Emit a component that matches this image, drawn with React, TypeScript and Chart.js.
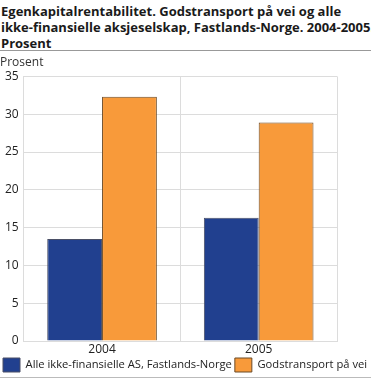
import React, { useEffect, useRef } from "react";
import { Chart, registerables } from "chart.js";

Chart.register(...registerables);

const titleLines = [
  "Egenkapitalrentabilitet. Godstransport på vei og alle",
  "ikke-finansielle aksjeselskap, Fastlands-Norge. 2004-2005.",
  "Prosent",
];
const categories = ["2004", "2005"];
const seriesNames = ["Alle ikke-finansielle AS, Fastlands-Norge", "Godstransport på vei"];
const allAS = [13.5, 16.3];
const godstransport = [32.3, 28.9];
const yAxisLabel = "Prosent";

const FONT = "'Open Sans', 'DejaVu Sans', sans-serif";

export default function App() {
  const ref = useRef<HTMLCanvasElement | null>(null);

  useEffect(() => {
    document.body.style.margin = "0";
    const ctx = ref.current!;
    const chart = new Chart(ctx, {
      type: "bar",
      data: {
        labels: categories,
        datasets: [
          {
            label: seriesNames[0],
            data: allAS,
            backgroundColor: "#21408f",
            borderColor: "#4a4f66",
            borderWidth: 1,
            categoryPercentage: 0.7,
            barPercentage: 1.0,
          },
          {
            label: seriesNames[1],
            data: godstransport,
            backgroundColor: "#f89a3a",
            borderColor: "#6b4a26",
            borderWidth: 1,
            categoryPercentage: 0.7,
            barPercentage: 1.0,
          },
        ],
      },
      options: {
        responsive: false,
        animation: false,
        layout: { padding: { left: 0, right: 0, top: 0, bottom: 0 } },
        plugins: {
          title: {
            display: true,
            text: yAxisLabel,
            align: "start",
            color: "#333",
            font: { family: FONT, size: 12, weight: "normal" },
            padding: { top: 4, bottom: 7 },
          },
          legend: {
            position: "bottom",
            align: "start",
            labels: {
              boxWidth: 17,
              boxHeight: 14,
              color: "#222",
              font: { family: FONT, size: 11.2 },
              padding: 3,
            },
          },
          tooltip: { enabled: false },
        },
        scales: {
          x: {
            grid: { color: "#dcdcdc", offset: true, drawTicks: false },
            border: { color: "#dcdcdc" },
            ticks: { color: "#222", font: { family: FONT, size: 12, lineHeight: 1 }, padding: 3 },
            afterFit: (scale: any) => {
              scale.height = 14;
            },
          },
          y: {
            min: 0,
            max: 35,
            grid: { color: "#dcdcdc", drawTicks: false },
            border: { color: "#dcdcdc" },
            ticks: {
              stepSize: 5,
              color: "#222",
              font: { family: FONT, size: 12 },
              padding: 5,
            },
          },
          yRight: {
            position: "right",
            display: true,
            grid: { display: false },
            border: { display: false },
            ticks: { display: false },
            afterFit: (scale: any) => {
              scale.width = 34;
            },
          },
        },
      },
    });
    return () => chart.destroy();
  }, []);

  return (
    <div style={{ position: "absolute", left: 0, top: 0, width: 371, height: 381, background: "#fff", overflow: "hidden" }}>
      <div
        style={{
          fontFamily: FONT,
          fontWeight: "bold",
          fontSize: 13,
          lineHeight: "16px",
          color: "#1a1a1a",
          padding: "3px 0 0 1px",
          height: 47,
          borderBottom: "1px solid #999",
          boxSizing: "content-box",
        }}
      >
        {titleLines.map((l, i) => (
          <div key={i} style={{ whiteSpace: "nowrap" }}>{l}</div>
        ))}
      </div>
      <canvas ref={ref} width={371} height={331} style={{ display: "block" }} />
      <div style={{ position: "absolute", left: 0, top: 377, width: 371, borderTop: "1px solid #bbb" }} />
    </div>
  );
}
